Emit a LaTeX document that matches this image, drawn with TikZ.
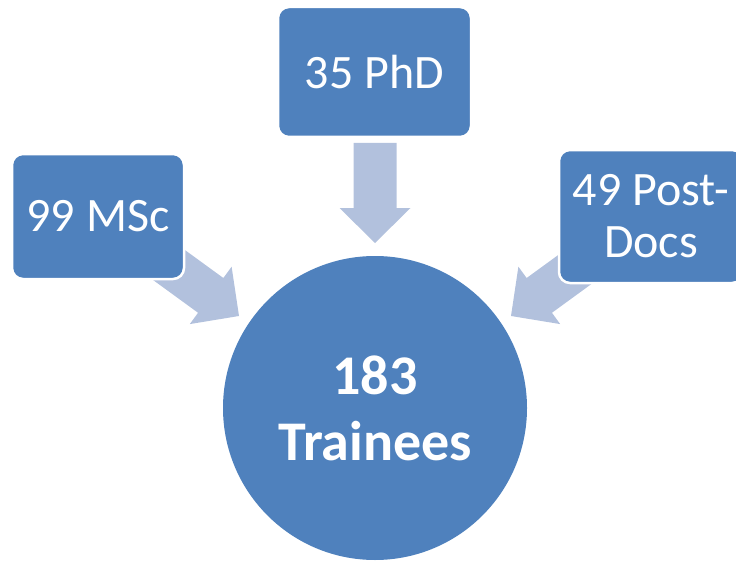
\documentclass[tikz,border=0pt]{standalone}
\usepackage{fontspec}
\setmainfont{Carlito}
\usetikzlibrary{calc}
\definecolor{boxblue}{RGB}{79,129,189}
\definecolor{arrowblue}{RGB}{178,193,221}
\tikzset{
  boxnode/.style={rectangle, rounded corners=11pt, fill=boxblue, draw=white, line width=2.5pt,
    text=white, inner sep=0pt, align=center, font=\fontsize{48}{52}\selectfont},
  hubnode/.style={circle, fill=boxblue, inner sep=0pt, minimum size=304pt,
    text=white, align=center, font=\bfseries\fontsize{56}{66}\selectfont},
  arrowfill/.style={fill=arrowblue}
}
\newcommand\fatarrow[2]{%
  \coordinate (#1#2hb) at ($(#2)!35pt!(#1)$);
  \fill[arrowfill] ($(#1)!21.5pt!90:(#2)$) -- ($(#1#2hb)!21.5pt!90:(#2)$)
    -- ($(#1#2hb)!35.5pt!90:(#2)$) -- (#2) -- ($(#1#2hb)!35.5pt!-90:(#2)$)
    -- ($(#1#2hb)!21.5pt!-90:(#2)$) -- ($(#1)!21.5pt!-90:(#2)$) -- cycle;%
}
\begin{document}
\begin{tikzpicture}[x=1pt,y=-1pt]
\useasboundingbox (0,0) rectangle (736,567);
% arrow end points (start ends lie hidden behind the boxes)
\coordinate (phdA) at (375,143);
\coordinate (phdB) at (375,243);
\coordinate (mscA) at (158,257);
\coordinate (mscB) at (239,316);
\coordinate (pdA) at (592,257);
\coordinate (pdB) at (511,316);
\fatarrow{phdA}{phdB}
\fatarrow{mscA}{mscB}
\fatarrow{pdA}{pdB}
% boxes
\node[boxnode, minimum width=193pt, minimum height=130pt] (phd) at (374.5,72) {35 PhD};
\node[boxnode, minimum width=172pt, minimum height=125pt] (msc) at (98,216.5) {99 MSc};
\node[boxnode, minimum width=184pt, minimum height=133pt] (pd) at (651,216.5) {49 Post-\\Docs};
% hub
\node[hubnode] (hub) at (375,408) {183\\Trainees};
\end{tikzpicture}
\end{document}
